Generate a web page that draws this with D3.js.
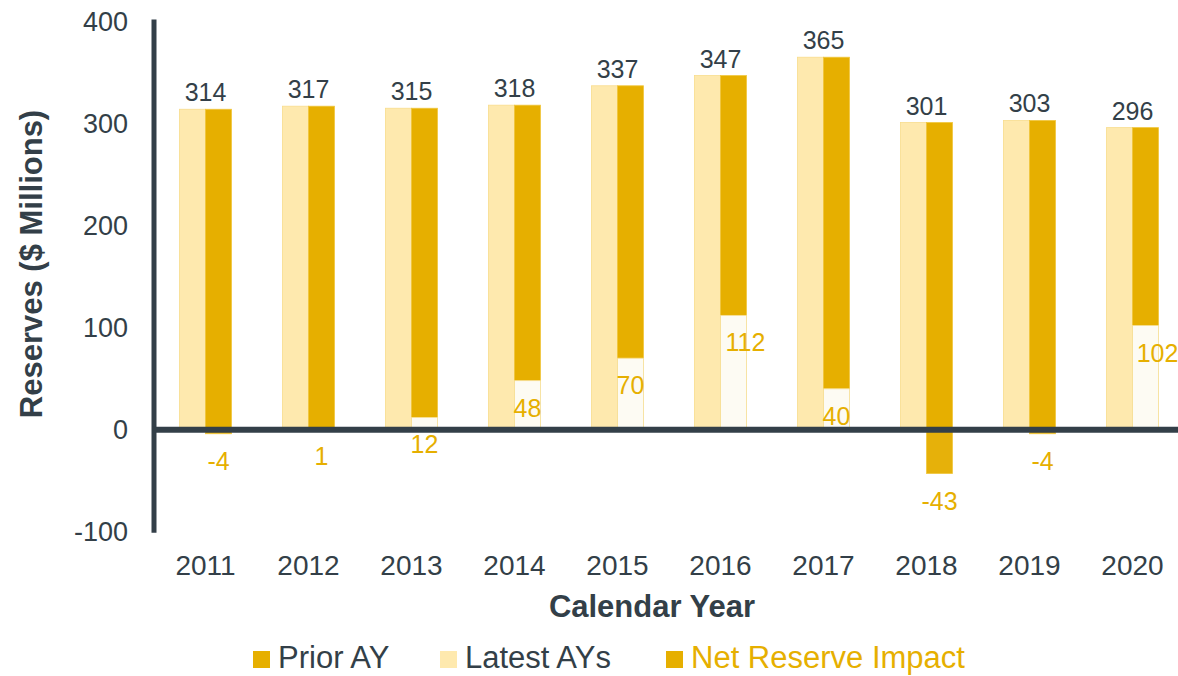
<!DOCTYPE html>
<html>
<head>
<meta charset="utf-8">
<script src="https://cdn.jsdelivr.net/npm/d3@7"></script>
<style>
  body { margin: 0; background: #fff; }
  svg text { font-family: "Liberation Sans", Arial, sans-serif; }
</style>
</head>
<body>
<div id="chart"></div>
<script>
// values
const years = ["2011", "2012", "2013", "2014", "2015", "2016", "2017", "2018", "2019", "2020"];
const totals = [314, 317, 315, 318, 337, 347, 365, 301, 303, 296];
const netImpact = [-4, 1, 12, 48, 70, 112, 40, -43, -4, 102];
const yTicks = [400, 300, 200, 100, 0, -100];

const width = 1178;
const height = 676;
const dark = "#333f48";
const gold = "#e6af00";
const pale = "#fee9ae";

const svg = d3.select("#chart")
    .append("svg")
    .attr("width", width)
    .attr("height", height);

const x = d3.scaleBand()
    .domain(years)
    .range([154, 1184]);

const y = d3.scaleLinear()
    .domain([-100, 400])
    .range([531.7, 21.5]);

const barW = 26;

// Latest AYs (left bar of each pair)
svg.selectAll(".latest")
    .data(years)
    .join("rect")
    .attr("class", "latest")
    .attr("x", d => x(d) + x.bandwidth() / 2 - barW)
    .attr("width", barW)
    .attr("y", (d, i) => y(totals[i]))
    .attr("height", (d, i) => y(0) - y(totals[i]))
    .attr("fill", pale)
    .attr("stroke", "#f8dc8c")
    .attr("stroke-width", 0.8);

// Prior AY (right bar, sits on top of the positive net impact)
svg.selectAll(".prior")
    .data(years)
    .join("rect")
    .attr("class", "prior")
    .attr("x", d => x(d) + x.bandwidth() / 2)
    .attr("width", barW)
    .attr("y", (d, i) => y(totals[i]))
    .attr("height", (d, i) => y(Math.max(0, netImpact[i])) - y(totals[i]))
    .attr("fill", gold)
    .attr("stroke", "#f0c63e")
    .attr("stroke-width", 0.8);

// Net Reserve Impact
svg.selectAll(".net")
    .data(years)
    .join("rect")
    .attr("class", "net")
    .attr("x", d => x(d) + x.bandwidth() / 2)
    .attr("width", barW)
    .attr("y", (d, i) => y(Math.max(0, netImpact[i])))
    .attr("height", (d, i) => Math.abs(y(netImpact[i]) - y(0)))
    .attr("fill", (d, i) => netImpact[i] > 0 ? "#fdfbf3" : "#e6b10a")
    .attr("stroke", (d, i) => netImpact[i] > 0 ? "#f6dc8f" : "#f0c63e")
    .attr("stroke-width", 0.8);

// axis lines
svg.append("line")
    .attr("x1", 154).attr("x2", 154)
    .attr("y1", y(400) - 2).attr("y2", y(-100) + 1)
    .attr("stroke", dark)
    .attr("stroke-width", 5);

svg.append("line")
    .attr("x1", 152).attr("x2", width)
    .attr("y1", y(0)).attr("y2", y(0))
    .attr("stroke", dark)
    .attr("stroke-width", 6);

// y tick labels
svg.selectAll(".ytick")
    .data(yTicks)
    .join("text")
    .attr("class", "ytick")
    .attr("x", 128)
    .attr("y", d => y(d))
    .attr("dy", "0.35em")
    .attr("text-anchor", "end")
    .attr("fill", dark)
    .style("font-size", "27px")
    .text(d => d);

// x tick labels
svg.selectAll(".xtick")
    .data(years)
    .join("text")
    .attr("class", "xtick")
    .attr("x", d => x(d) + x.bandwidth() / 2)
    .attr("y", 575)
    .attr("text-anchor", "middle")
    .attr("fill", dark)
    .style("font-size", "28px")
    .text(d => d);

// total labels above bars
svg.selectAll(".total")
    .data(years)
    .join("text")
    .attr("class", "total")
    .attr("x", d => x(d) + x.bandwidth() / 2)
    .attr("y", (d, i) => y(totals[i]) - 8)
    .attr("text-anchor", "middle")
    .attr("fill", dark)
    .style("font-size", "25px")
    .text((d, i) => totals[i]);

// net impact labels
svg.selectAll(".netlabel")
    .data(years)
    .join("text")
    .attr("class", "netlabel")
    .attr("x", (d, i) => x(d) + x.bandwidth() / 2 + barW / 2 + (netImpact[i] >= 100 ? 12 : 0))
    .attr("y", (d, i) => y(netImpact[i]) + 36)
    .attr("text-anchor", "middle")
    .attr("fill", gold)
    .style("font-size", "25px")
    .text((d, i) => netImpact[i]);

// axis titles
svg.append("text")
    .attr("x", 652)
    .attr("y", 617)
    .attr("text-anchor", "middle")
    .attr("fill", dark)
    .style("font-size", "31px")
    .style("font-weight", "bold")
    .text("Calendar Year");

svg.append("text")
    .attr("transform", "translate(42,264) rotate(-90)")
    .attr("text-anchor", "middle")
    .attr("fill", dark)
    .style("font-size", "31px")
    .style("font-weight", "bold")
    .text("Reserves ($ Millions)");

// legend
const legend = [
    { name: "Prior AY", color: gold, text: dark, x: 253 },
    { name: "Latest AYs", color: pale, text: dark, x: 440 },
    { name: "Net Reserve Impact", color: gold, text: gold, x: 666 }
];

const lg = svg.selectAll(".legend")
    .data(legend)
    .join("g")
    .attr("class", "legend")
    .attr("transform", d => `translate(${d.x}, 651)`);

lg.append("rect")
    .attr("width", 17)
    .attr("height", 17)
    .attr("fill", d => d.color);

lg.append("text")
    .attr("x", 25)
    .attr("y", 17)
    .attr("fill", d => d.text)
    .style("font-size", "31px")
    .text(d => d.name);
</script>
</body>
</html>
